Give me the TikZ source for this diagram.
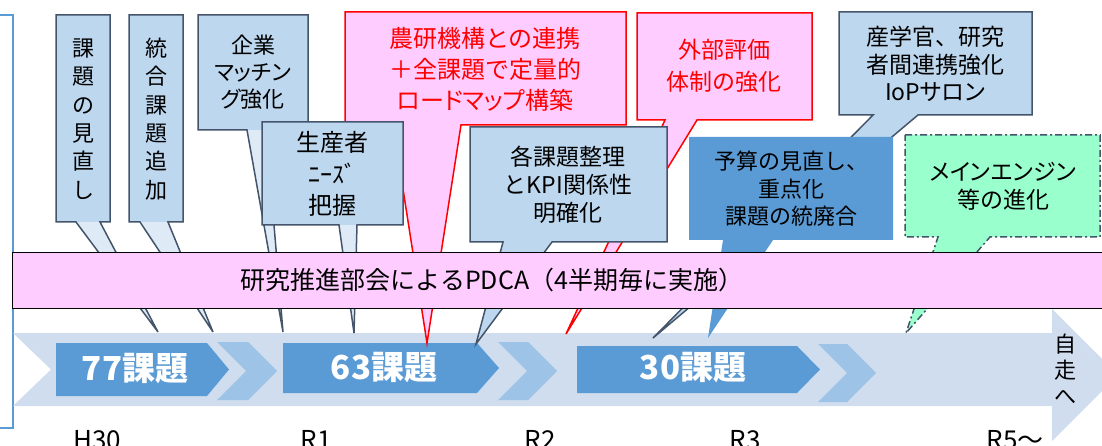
\documentclass[tikz,border=0pt]{standalone}
\usepackage{fontspec}
\setmainfont{Noto Sans CJK JP}
\newfontfamily\jpp{Noto Sans CJK JP}[RawFeature=+palt]
\definecolor{bandc}{HTML}{CFDDEE}
\definecolor{pentc}{HTML}{5B9BD5}
\definecolor{chevc}{HTML}{9DC3E6}
\definecolor{boxc}{HTML}{BDD7EE}
\definecolor{ptrc}{HTML}{DEEBF7}
\definecolor{edgec}{HTML}{44546A}
\definecolor{pinkc}{HTML}{FFCCFF}
\definecolor{redc}{HTML}{FF0000}
\definecolor{greenc}{HTML}{99FFCC}
\begin{document}
\begin{tikzpicture}[x=1pt,y=-1pt,
  edgeline/.style={draw=edgec,line width=1.5pt,line join=miter},
  redline/.style={draw=redc,line width=1.5pt,line join=miter},
  txt/.style={align=center,inner sep=0pt,text=black},
  pent/.style={fill=pentc},
  chev/.style={fill=chevc},
  pentlabel/.style={txt,text=white,font=\fontsize{33}{33}\bfseries\selectfont},
  yearlabel/.style={anchor=base,inner sep=0pt,font=\fontsize{26}{26}\selectfont}]
\useasboundingbox (0,0) rectangle (1102,446);
\clip (0,0) rectangle (1102,446);
% left frame
\draw[draw=pentc,line width=1.5pt] (-5,15) rectangle (13,428);
% big arrow band
\fill[bandc] (13,333) -- (1052,333) -- (1052,309) -- (1118,375) -- (1052,441) -- (1052,406) -- (13,406) -- (51,369.5) -- cycle;
% light chevrons
\fill[chev] (217,342) -- (248,342) -- (277,371) -- (248,400) -- (217,400) -- (246,371) -- cycle;
\fill[chev] (498,342) -- (528,342) -- (557,371) -- (528,400) -- (498,400) -- (527,371) -- cycle;
\fill[chev] (818,344) -- (847,344) -- (876,373) -- (847,402) -- (818,402) -- (847,373) -- cycle;
% pentagons
\fill[pent] (56,343) -- (207,343) -- (229,369.5) -- (207,396) -- (56,396) -- cycle;
\fill[pent] (283,343) -- (477,343) -- (499,368) -- (477,393) -- (283,393) -- cycle;
\fill[pent] (577,346) -- (797,346) -- (820,369.5) -- (797,393) -- (577,393) -- cycle;
\node[pentlabel] (p77) at (135,369) {77課題};
\node[pentlabel] (p63) at (384,368) {63課題};
\node[pentlabel] (p30) at (693,368) {30課題};
% box 3 (behind)
\fill[ptrc] (198,15) -- (308,15) -- (308,130) -- (266,130) -- (283,332) -- (247,130) -- (198,130) -- cycle;
\fill[boxc] (198,15) rectangle (308,130);
\draw[edgeline] (198,15) -- (308,15) -- (308,130) -- (266,130) -- (283,332) -- (247,130) -- (198,130) -- cycle;
\node[txt,font=\fontsize{22}{27}\selectfont] (b3) at (253,72) {企業\\{\jpp マッチン}\\{\jpp グ強化}};
% box 1
\fill[ptrc] (56,15) -- (110,15) -- (110,222) -- (100,222) -- (158,332) -- (76,222) -- (56,222) -- cycle;
\fill[boxc] (56,15) rectangle (110,222);
\draw[edgeline] (56,15) -- (110,15) -- (110,222) -- (100,222) -- (158,332) -- (76,222) -- (56,222) -- cycle;
\node[txt,font=\fontsize{22}{28.4}\selectfont] (b1) at (83,119) {課\\題\\の\\見\\直\\し};
% box 2
\fill[ptrc] (129,15) -- (183,15) -- (183,222) -- (168,222) -- (213,332) -- (140,222) -- (129,222) -- cycle;
\fill[boxc] (129,15) rectangle (183,222);
\draw[edgeline] (129,15) -- (183,15) -- (183,222) -- (168,222) -- (213,332) -- (140,222) -- (129,222) -- cycle;
\node[txt,font=\fontsize{22}{28.4}\selectfont] (b2) at (156,119) {統\\合\\課\\題\\追\\加};
% box 5 (red)
\filldraw[fill=pinkc,redline] (345,12) -- (626,12) -- (626,125) -- (461,125) -- (427,343) -- (393,125) -- (345,125) -- cycle;
\node[txt,text=redc,font=\fontsize{24}{31}\selectfont] (b5) at (485,69) {農研機構との連携\\＋全課題で定量的\\{\jpp ロードマップ}構築};
% box 4
\fill[ptrc] (262,122) -- (403,122) -- (403,225) -- (357,225) -- (354,333) -- (339,225) -- (262,225) -- cycle;
\fill[boxc] (262,122) rectangle (403,225);
\draw[edgeline] (262,122) -- (403,122) -- (403,225) -- (357,225) -- (354,333) -- (339,225) -- (262,225) -- cycle;
\node[txt,font=\fontsize{24}{31.5}\selectfont] (b4) at (332,174) {生産者\\ﾆｰｽﾞ\\把握};
% box 6 (red)
\filldraw[fill=pinkc,redline] (637,13) -- (812,13) -- (812,120) -- (697,120) -- (566,334) -- (665,120) -- (637,120) -- cycle;
\node[txt,text=redc,font=\fontsize{23}{32}\selectfont] (b6) at (724,66) {外部評価\\体制の強化};
% box 7
\filldraw[fill=boxc,edgeline] (470,127) -- (667,127) -- (667,242) -- (552,242) -- (476,344) -- (503,242) -- (470,242) -- cycle;
\node[txt,font=\fontsize{23}{28}\selectfont] (b7) at (568,185) {各課題整理\\とKPI関係性\\明確化};
% box 9
\filldraw[fill=boxc,edgeline] (839,12) -- (1032,12) -- (1032,115) -- (918,115) -- (653,338) -- (873,115) -- (839,115) -- cycle;
\node[txt,font=\fontsize{23}{27.5}\selectfont] (b9) at (935,64) {産学官、研究\\者間連携強化\\Io{\jpp P}{\jpp サロン}};
% box 8
\fill[pentc] (689,137) -- (893,137) -- (893,240) -- (773,240) -- (708,338) -- (723,240) -- (689,240) -- cycle;
\node[txt,font=\fontsize{22}{27.5}\selectfont] (b8) at (791,189) {予算の見直し、\\重点化\\課題の統廃合};
% box 10
\filldraw[fill=greenc,draw=edgec,line width=1.5pt,dash pattern=on 7pt off 3pt on 2pt off 3pt] (905,135) -- (1100,135) -- (1100,237) -- (990,237) -- (906,333) -- (938,237) -- (905,237) -- cycle;
\node[txt,font=\fontsize{23}{28}\selectfont] (b10) at (1003,186) {{\jpp メインエンジン}\\等の進化};
% PDCA band
\filldraw[fill=pinkc,draw=black,line width=1pt] (12,253) rectangle (1110,308);
\node[txt,font=\fontsize{25}{25}\selectfont] (pdca) at (492,280) {研究推進部会によるPDCA（4半期毎に実施）};
% self-running
\node[txt,font=\fontsize{22}{26}\selectfont] (jiso) at (1065,369) {自\\走\\へ};
% years
\node[yearlabel] (h30) at (97,449) {H30};
\node[yearlabel] (r1) at (316,449) {R1};
\node[yearlabel] (r2) at (540,449) {R2};
\node[yearlabel] (r3) at (745,449) {R3};
\node[yearlabel] (r5) at (1015,449) {R5～};
\end{tikzpicture}
\end{document}
